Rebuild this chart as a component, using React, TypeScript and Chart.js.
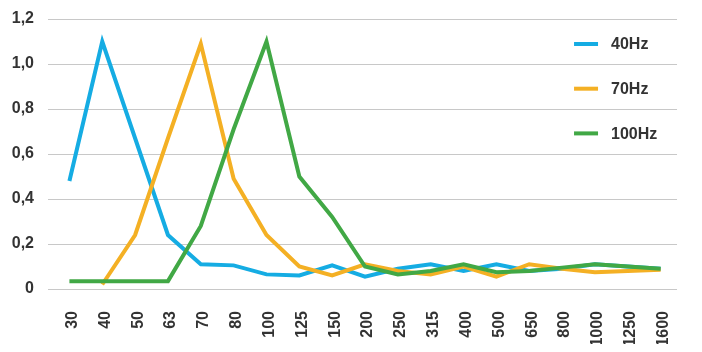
import React, { useEffect, useRef } from "react";
import { Chart, registerables } from "chart.js";

Chart.register(...registerables);

const CATEGORIES = ["30", "40", "50", "63", "70", "80", "100", "125", "150", "200", "250", "315", "400", "500", "650", "800", "1000", "1250", "1600"];
const SERIES_LABELS = ["40Hz", "70Hz", "100Hz"];
const S40 = [0.48, 1.1, 0.67, 0.24, 0.11, 0.105, 0.065, 0.06, 0.105, 0.055, 0.09, 0.11, 0.08, 0.11, 0.08, 0.09, 0.11, 0.1, 0.09];
const S70 = [null, 0.02, 0.24, 0.67, 1.09, 0.49, 0.24, 0.1, 0.06, 0.11, 0.08, 0.065, 0.1, 0.055, 0.11, 0.09, 0.075, 0.08, 0.085];
const S100 = [0.035, 0.035, 0.035, 0.035, 0.28, 0.71, 1.1, 0.5, 0.32, 0.1, 0.065, 0.08, 0.11, 0.075, 0.08, 0.095, 0.11, 0.1, 0.09];
const Y_TICK_LABELS = ["0", "0,2", "0,4", "0,6", "0,8", "1,0", "1,2"];
const COLORS = ["#15ACE3", "#F4B024", "#41A845"];

const FONT_FAMILY = "'Liberation Sans', Arial, sans-serif";
const TEXT_COLOR = "#333333";

const legendPlugin = {
  id: "customLegend",
  afterDraw(chart: any) {
    const { ctx, chartArea } = chart;
    ctx.save();
    chart.data.datasets.forEach((ds: any, i: number) => {
      const y = chartArea.top + 25 + i * 44.7;
      const x0 = chartArea.right - 103;
      ctx.strokeStyle = ds.borderColor;
      ctx.lineWidth = 4;
      ctx.lineCap = "butt";
      ctx.beginPath();
      ctx.moveTo(x0, y);
      ctx.lineTo(x0 + 24, y);
      ctx.stroke();
      ctx.fillStyle = TEXT_COLOR;
      ctx.font = `bold 16px ${FONT_FAMILY}`;
      ctx.textAlign = "left";
      ctx.textBaseline = "middle";
      ctx.fillText(ds.label, x0 + 37, y + 1);
    });
    ctx.restore();
  },
};

export default function App() {
  const canvasRef = useRef<HTMLCanvasElement | null>(null);

  useEffect(() => {
    if (!canvasRef.current) return;
    const seriesData = [S40, S70, S100];
    const chart = new Chart(canvasRef.current, {
      type: "line",
      data: {
        labels: CATEGORIES,
        datasets: seriesData.map((d, i) => ({
          label: SERIES_LABELS[i],
          data: d,
          borderColor: COLORS[i],
          backgroundColor: COLORS[i],
          borderWidth: 4,
          pointRadius: 0,
          tension: 0,
          fill: false,
          order: 3 - i,
        })),
      },
      options: {
        animation: false,
        responsive: true,
        maintainAspectRatio: false,
        layout: { padding: { top: 0, right: 7, bottom: 0, left: 0 } },
        plugins: {
          legend: { display: false },
          tooltip: { enabled: false },
        },
        scales: {
          x: {
            offset: true,
            grid: { display: false },
            border: { display: false },
            ticks: {
              minRotation: 90,
              maxRotation: 90,
              autoSkip: false,
              padding: 14,
              labelOffset: 3,
              color: TEXT_COLOR,
              font: { family: FONT_FAMILY, size: 16, weight: "bold" },
            },
            afterFit: (scale: any) => {
              scale.height = 55;
            },
          },
          y: {
            min: 0,
            max: 1.2,
            border: { display: false },
            grid: { color: "#C8C8C8", lineWidth: 1, drawTicks: true, tickLength: 5 },
            ticks: {
              stepSize: 0.2,
              padding: 14,
              color: TEXT_COLOR,
              font: { family: FONT_FAMILY, size: 16, weight: "bold" },
              callback: (_v: any, idx: number) => Y_TICK_LABELS[idx],
            },
            afterFit: (scale: any) => {
              scale.width = 45;
              scale.paddingTop = 11;
              scale.paddingBottom = 0;
            },
          },
        },
      },
      plugins: [legendPlugin],
    });
    return () => chart.destroy();
  }, []);

  return (
    <div style={{ position: "relative", width: "100%", height: "336px" }}>
      <canvas ref={canvasRef} />
    </div>
  );
}
